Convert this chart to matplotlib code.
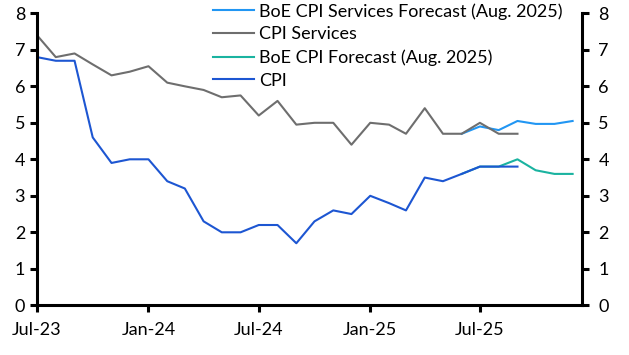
import pandas as pd
from matplotlib import pyplot as plt

# Monthly UK inflation data (% y/y)
dates = pd.date_range('2023-07-01', '2025-09-01', freq='MS')
cpi = [6.8, 6.7, 6.7, 4.6, 3.9, 4.0, 4.0, 3.4, 3.2, 2.3, 2.0, 2.0, 2.2,
       2.2, 1.7, 2.3, 2.6, 2.5, 3.0, 2.8, 2.6, 3.5, 3.4, 3.6, 3.8, 3.8, 3.8]
cpi_services = [7.4, 6.8, 6.9, 6.6, 6.3, 6.4, 6.55, 6.1, 6.0, 5.9, 5.7, 5.75, 5.2,
                5.6, 4.95, 5.0, 5.0, 4.4, 5.0, 4.95, 4.7, 5.4, 4.7, 4.7, 5.0, 4.7, 4.7]

# BoE August 2025 Monetary Policy Report forecasts
fc_dates = pd.date_range('2025-06-01', '2025-12-01', freq='MS')
boe_cpi = [3.6, 3.8, 3.8, 4.0, 3.7, 3.6, 3.6]
boe_services = [4.7, 4.9, 4.8, 5.05, 4.97, 4.97, 5.05]

xticks = pd.to_datetime(['2023-07-01', '2024-01-01', '2024-07-01', '2025-01-01', '2025-07-01'])
xlabels = ['Jul-23', 'Jan-24', 'Jul-24', 'Jan-25', 'Jul-25']

plt.rcParams['font.family'] = ['Lato', 'DejaVu Sans']

fig = plt.figure(figsize=(6.29, 3.55), dpi=100)
ax = fig.add_axes([0.0588, 0.14, 0.866, 0.8225])

ax.plot(fc_dates, boe_services, color='#2196f3', lw=1.5, label='BoE CPI Services Forecast (Aug. 2025)')
ax.plot(dates, cpi_services, color='#6e6e6e', lw=1.5, label='CPI Services')
ax.plot(fc_dates, boe_cpi, color='#1ab3a0', lw=1.5, label='BoE CPI Forecast (Aug. 2025)')
ax.plot(dates, cpi, color='#1d56d2', lw=1.5, label='CPI')

ax.set_ylim(0, 8)
ax.set_xlim(pd.Timestamp('2023-07-01'), pd.Timestamp('2025-12-16'))
ax.set_xticks(xticks)
ax.set_xticklabels(xlabels)
ax.set_yticks(range(0, 9))

# Format axes
for side in ['left', 'right', 'bottom']:
    ax.spines[side].set_linewidth(2.2)
ax.spines['top'].set_visible(False)
ax.tick_params(axis='both', which='major', labelsize=13, width=2.2, length=5, direction='out')
ax.tick_params(axis='x', pad=7)

ax2 = ax.twinx()
ax2.set_ylim(0, 8)
ax2.set_yticks(range(0, 9))
for side in ['left', 'right', 'bottom', 'top']:
    ax2.spines[side].set_visible(False)
ax2.tick_params(axis='y', labelsize=13, width=2.2, length=5, direction='out', pad=7)

ax.legend(loc='upper left', bbox_to_anchor=(0.3097, 1.06), frameon=False, fontsize=13,
          handlelength=2.27, handletextpad=0.3, labelspacing=0.38, borderaxespad=0)

fig.savefig('out.png', dpi=100)
